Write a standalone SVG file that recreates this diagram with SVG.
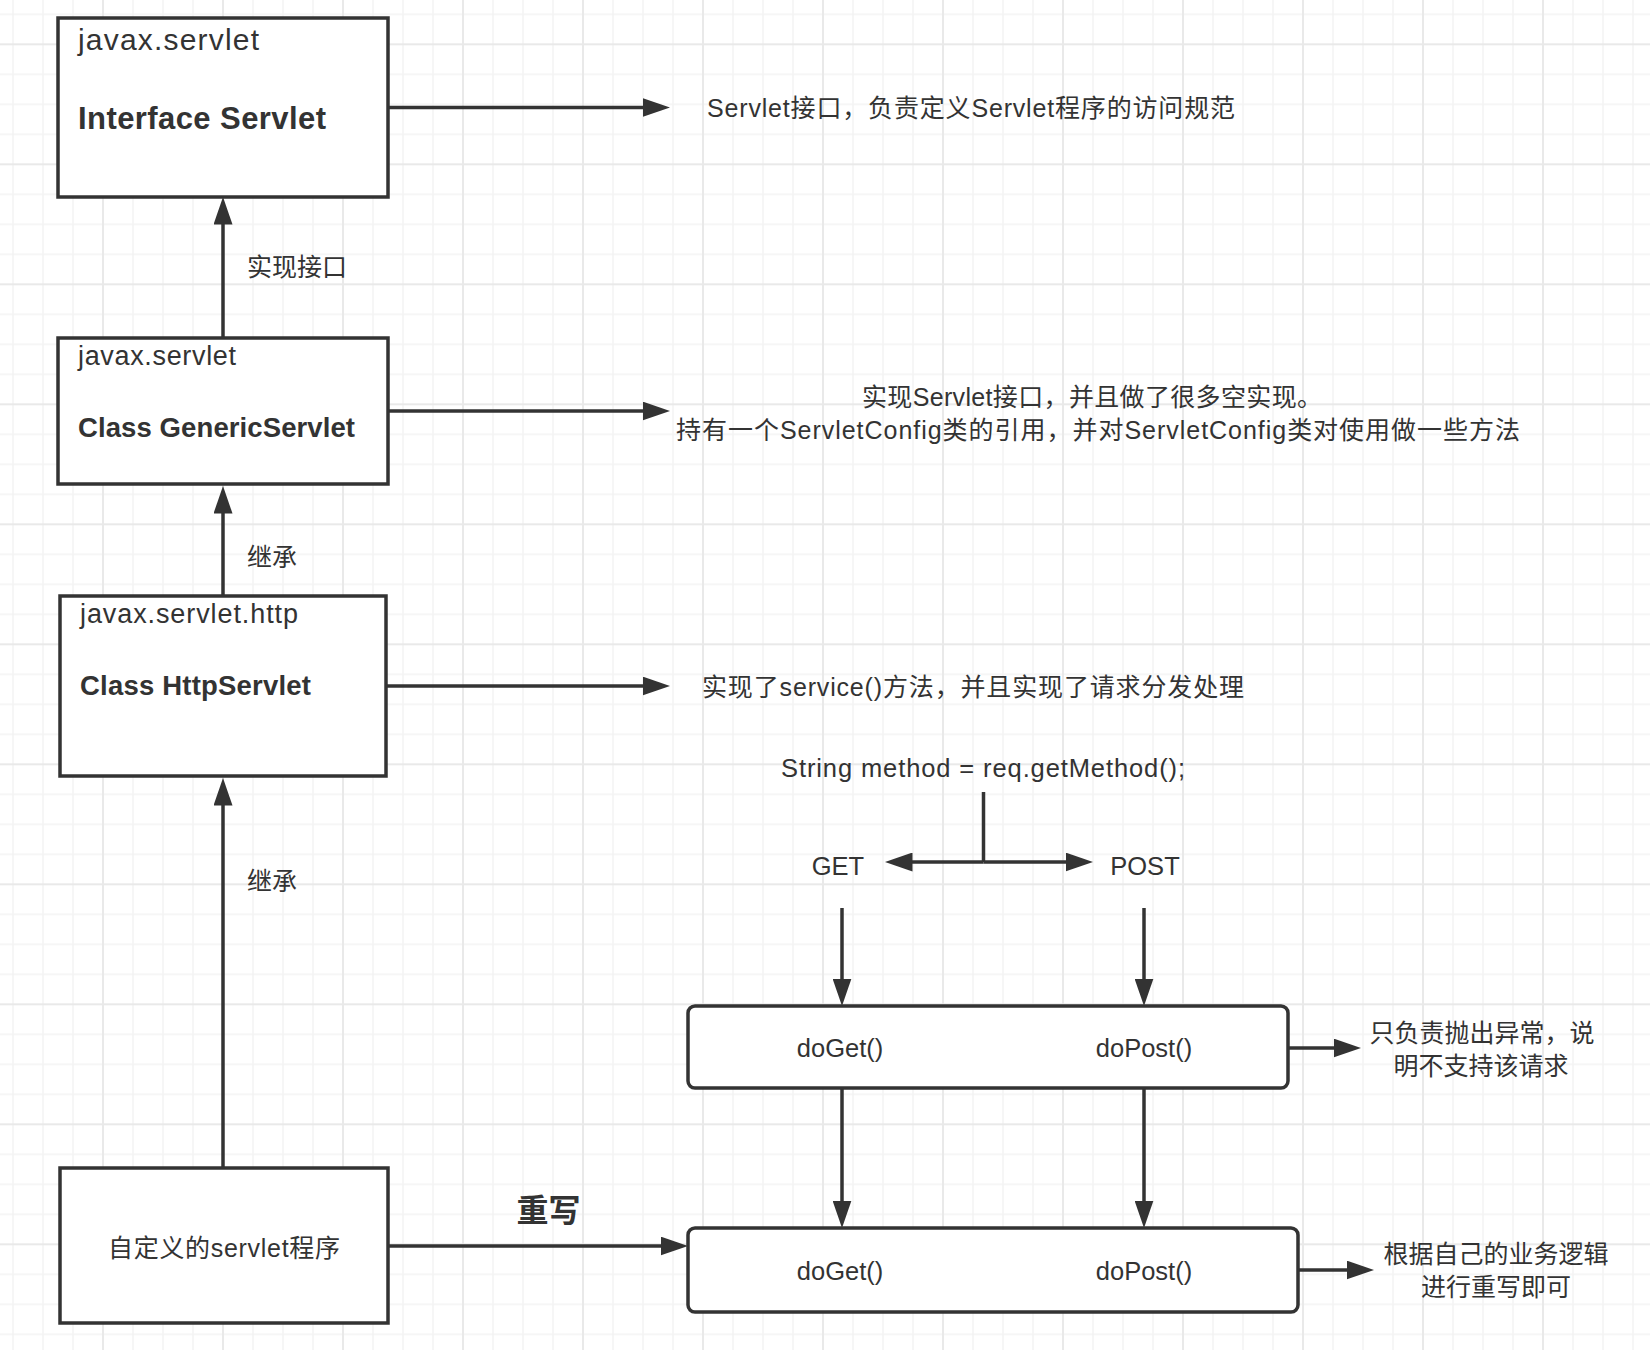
<svg xmlns="http://www.w3.org/2000/svg" width="1650" height="1350" viewBox="0 0 1650 1350">
<style>
.t{font-family:"Liberation Sans","Noto Sans CJK SC",sans-serif;fill:#333;}
.b{font-weight:bold;}
.c{text-anchor:middle;}
.box{fill:#fff;stroke:#333;stroke-width:3.5;}
.ln{fill:none;stroke:#333;stroke-width:3.5;}
.arr{fill:none;stroke:#333;stroke-width:3.5;marker-end:url(#ah);}
</style>
<defs>
<pattern id="grid" patternUnits="userSpaceOnUse" x="13" y="14.3" width="120" height="120">
<rect x="-0.75" y="0" width="1.5" height="120" fill="#f3f3f3"/>
<rect x="29.25" y="0" width="1.5" height="120" fill="#f3f3f3"/>
<rect x="59.25" y="0" width="1.5" height="120" fill="#f3f3f3"/>
<rect x="0" y="-0.75" width="120" height="1.5" fill="#f3f3f3"/>
<rect x="0" y="59.25" width="120" height="1.5" fill="#f3f3f3"/>
<rect x="0" y="89.25" width="120" height="1.5" fill="#f3f3f3"/>
<rect x="119.25" y="0" width="1.5" height="120" fill="#f3f3f3"/>
<rect x="0" y="119.25" width="120" height="1.5" fill="#f3f3f3"/>
<rect x="89" y="0" width="2" height="120" fill="#e9e9e9"/>
<rect x="0" y="29" width="120" height="2" fill="#e9e9e9"/>
</pattern>
<marker id="ah" markerUnits="userSpaceOnUse" markerWidth="28" markerHeight="19" viewBox="0 0 28 19" refX="1" refY="9.5" orient="auto">
<path d="M0,0 L27.5,9.5 L0,19 Z" fill="#333"/>
</marker>
</defs>
<rect width="1650" height="1350" fill="#fff"/>
<rect width="1650" height="1350" fill="url(#grid)"/>

<g id="connectors">
<path class="arr" d="M388,107.5 H643.5"/>
<path class="arr" d="M388,411 H643.5"/>
<path class="arr" d="M386,686 H643.5"/>
<path class="arr" d="M223,338 V223.5"/>
<path class="arr" d="M223,596 V512.5"/>
<path class="arr" d="M223,1168 V804.5"/>
<path class="arr" d="M388,1246 H661.5"/>
<path class="ln" d="M983.5,792 V862"/>
<path class="arr" d="M983.5,862 H911.5"/>
<path class="arr" d="M983.5,862 H1066.5"/>
<path class="arr" d="M842,908 V979.5"/>
<path class="arr" d="M1144,908 V979.5"/>
<path class="arr" d="M842,1088 V1201.5"/>
<path class="arr" d="M1144,1088 V1201.5"/>
<path class="arr" d="M1288,1048 H1334.5"/>
<path class="arr" d="M1298,1270 H1347.5"/>
<text class="t c" x="297" y="276" font-size="25">实现接口</text>
<text class="t c" x="272" y="566" font-size="25">继承</text>
<text class="t c" x="272" y="890" font-size="25">继承</text>
<text class="t c b" x="548.5" y="1222" font-size="32">重写</text>
</g>

<g id="node-servlet">
<rect class="box" x="58" y="18" width="330" height="179"/>
<text class="t" x="78" y="50" font-size="30" textLength="181">javax.servlet</text>
<text class="t b" x="78" y="129" font-size="31" textLength="248">Interface Servlet</text>
</g>

<g id="node-generic">
<rect class="box" x="58" y="338" width="330" height="146"/>
<text class="t" x="78" y="365" font-size="27" textLength="158">javax.servlet</text>
<text class="t b" x="78" y="437" font-size="27.5" textLength="277">Class GenericServlet</text>
</g>

<g id="node-http">
<rect class="box" x="60" y="596" width="326" height="180"/>
<text class="t" x="80" y="623" font-size="27" textLength="218">javax.servlet.http</text>
<text class="t b" x="80" y="695" font-size="27.5" textLength="231">Class HttpServlet</text>
</g>

<g id="node-custom">
<rect class="box" x="60" y="1168" width="328" height="155"/>
<text class="t c" x="224" y="1257" font-size="25" textLength="232">自定义的servlet程序</text>
</g>

<g id="node-methods">
<rect class="box" x="688" y="1006" width="600" height="82" rx="7"/>
<text class="t c" x="840" y="1057" font-size="25.5">doGet()</text>
<text class="t c" x="1144" y="1057" font-size="25.5">doPost()</text>
</g>

<g id="node-override">
<rect class="box" x="688" y="1228" width="610" height="84" rx="7"/>
<text class="t c" x="840" y="1280" font-size="25.5">doGet()</text>
<text class="t c" x="1144" y="1280" font-size="25.5">doPost()</text>
</g>

<g id="note-servlet">
<text class="t c" x="971" y="117" font-size="25" textLength="528">Servlet接口，负责定义Servlet程序的访问规范</text>
</g>

<g id="note-generic">
<text class="t c" x="1092" y="406" font-size="25" textLength="460">实现Servlet接口，并且做了很多空实现。</text>
<text class="t c" x="1098" y="439" font-size="25" textLength="844">持有一个ServletConfig类的引用，并对ServletConfig类对使用做一些方法</text>
</g>

<g id="note-http">
<text class="t c" x="973" y="696" font-size="25" textLength="542">实现了service()方法，并且实现了请求分发处理</text>
</g>

<g id="note-method">
<text class="t c" x="983" y="777" font-size="25.5" textLength="404">String method = req.getMethod();</text>
</g>

<g id="label-get">
<text class="t c" x="838" y="875" font-size="25.5">GET</text>
</g>

<g id="label-post">
<text class="t c" x="1145" y="875" font-size="25.5">POST</text>
</g>

<g id="note-exception">
<text class="t c" x="1482" y="1042" font-size="25">只负责抛出异常，说</text>
<text class="t c" x="1481" y="1075" font-size="25">明不支持该请求</text>
</g>

<g id="note-business">
<text class="t c" x="1496" y="1263" font-size="25">根据自己的业务逻辑</text>
<text class="t c" x="1496" y="1296" font-size="25">进行重写即可</text>
</g>
</svg>
